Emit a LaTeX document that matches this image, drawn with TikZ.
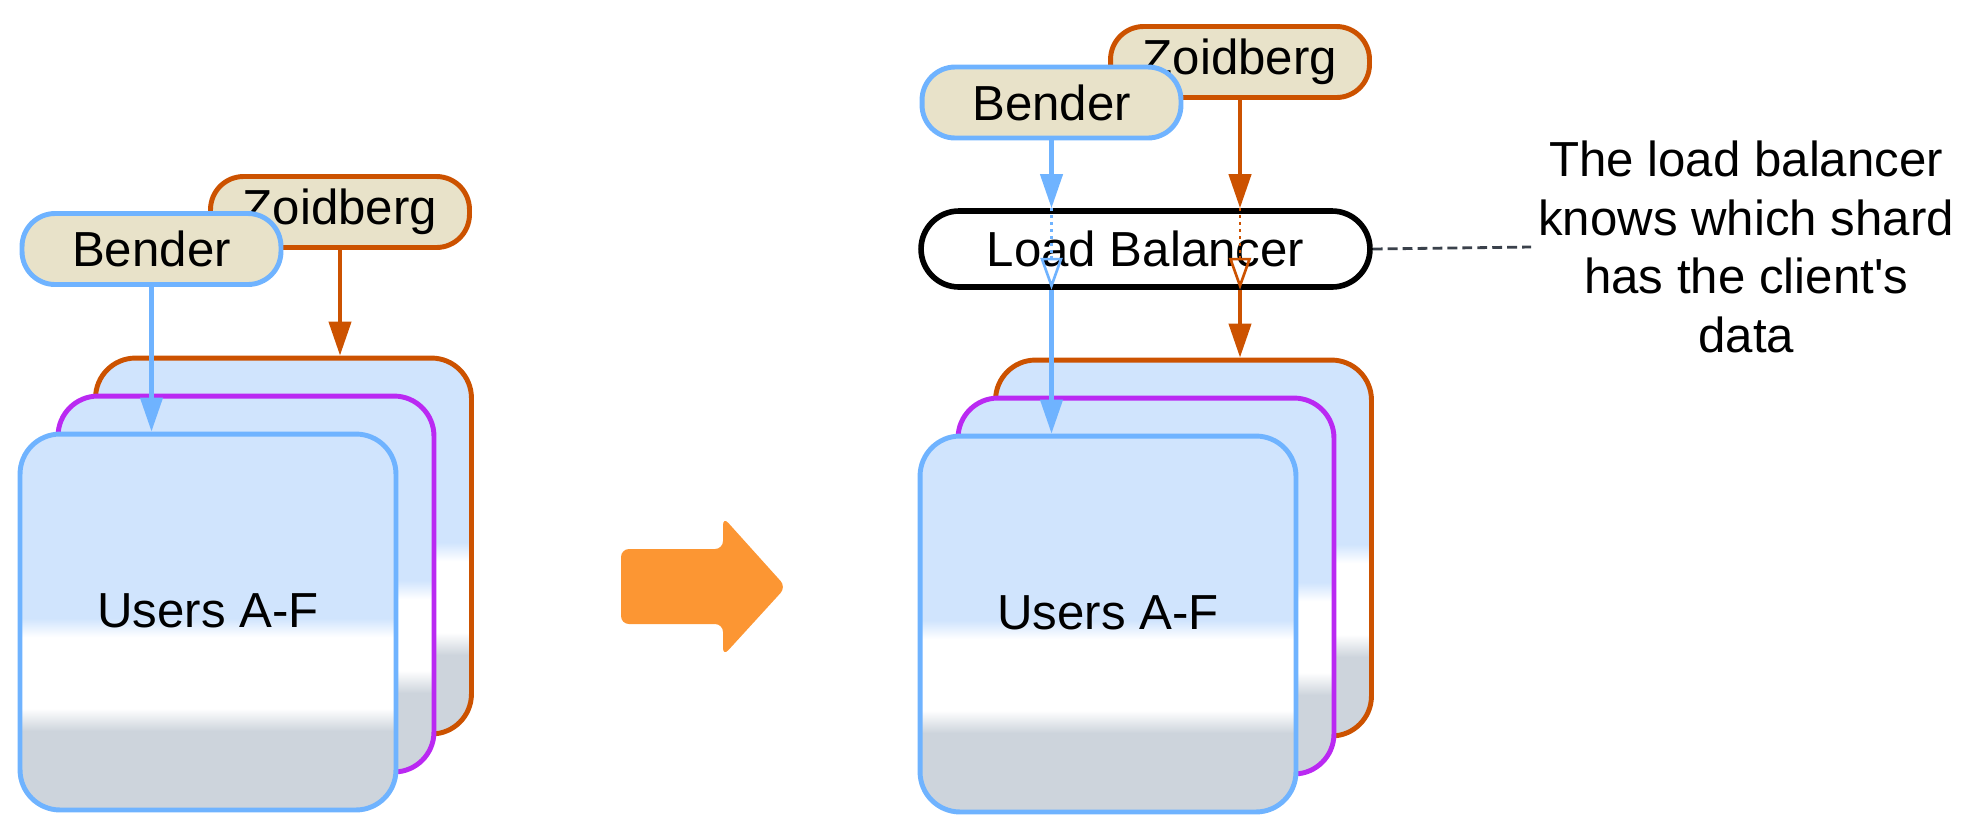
\documentclass[tikz,border=0pt]{standalone}
\usepackage{fontspec}
\setmainfont{Liberation Sans}
\newfontfamily\notefont{Liberation Sans}
\usepackage{xcolor}
\usepackage{tikz}
\usetikzlibrary{arrows.meta,calc}
\definecolor{blueline}{HTML}{6FB3FF}
\definecolor{orangeline}{HTML}{CC5200}
\definecolor{purpleline}{HTML}{BA29F2}
\definecolor{pillfill}{HTML}{E8E2C9}
\definecolor{cardblue}{HTML}{D0E4FD}
\definecolor{cardgray}{HTML}{CDD4DC}
\definecolor{bigarrow}{HTML}{FC9633}
\definecolor{noteline}{HTML}{3A414B}
\newcommand{\diagfont}{\fontsize{28}{33}\selectfont}
\pgfdeclareverticalshading{cardshade}{100bp}{color(0bp)=(cardgray); color(35.5bp)=(cardgray); color(38.5bp)=(white); color(48bp)=(white); color(50.5bp)=(cardblue); color(100bp)=(cardblue)}

\begin{document}
\begin{tikzpicture}[x=0.02cm,y=-0.02cm,
  pill/.style={draw=#1,fill=pillfill,line width=2.8pt,rounded corners=0.66cm,
    minimum width=5.18cm,minimum height=1.42cm,font=\diagfont},
  lbbox/.style={draw=black,fill=white,line width=3.2pt,rounded corners=0.76cm,
    minimum width=8.98cm,minimum height=1.52cm,font=\diagfont},
  card/.style={draw=#1,line width=2.8pt,rounded corners=0.8cm,shade,shading=cardshade,
    minimum width=7.52cm,minimum height=7.52cm},
  cardtext/.style={font=\diagfont,inner sep=0pt},
  note/.style={font=\notefont\fontsize{28}{33.3}\selectfont,align=center,inner sep=0.14cm},
  conn/.style={line width=2.4pt,-{Triangle[length=0.68cm,width=0.44cm]}},
  passthru/.style={line width=1.6pt,dash pattern=on 1.6pt off 2.4pt},
  opentip/.style={line width=1.5pt,-{Triangle[open,length=0.64cm,width=0.44cm]}}]
  \useasboundingbox (0,0) rectangle (1973,833);
  % shard stacks, before and after
  \foreach \s/\dx/\dy in {L/0/0,R/900/2} {
    \node[card=orangeline] (back\s) at ({283.5+\dx},{546+\dy}) {};
    \node[card=purpleline] (mid\s) at ({246+\dx},{584+\dy}) {};
    \node[card=blueline] (users\s) at ({208+\dx},{622+\dy}) {};
    \node[cardtext] (label\s) at ({208+\dx},{611+\dy}) {Users A-F};
  }
  % clients
  \foreach \s/\bx/\by/\zx/\zy in {L/151.5/249/340/212,R/1051.5/102.5/1240/62} {
    \node[pill=orangeline] (zoid\s) at (\zx,\zy) {Zoidberg};
    \node[pill=blueline] (bender\s) at (\bx,\by) {Bender};
  }
  % load balancer and its note
  \node[lbbox] (lb) at (1145.5,249) {Load Balancer};
  \node[note,anchor=west] (note) at (1531,247) {The load balancer\\knows which shard\\has the client's\\data};
  \draw[noteline,line width=1.6pt,dash pattern=on 5.6pt off 2.9pt] (lb.east) -- (note.west);
  % big arrow between the two setups
  \fill[bigarrow,rounded corners=0.16cm] (621,549) -- (723,549) -- (723,517) -- (786,587)
    -- (723,656) -- (723,624) -- (621,624) -- cycle;
  % direct requests
  \draw[conn,blueline] (benderL.south) -- (benderL.south |- usersL.north);
  \draw[conn,orangeline] (zoidL.south) -- (zoidL.south |- backL.north);
  % requests through the balancer
  \foreach \c/\col/\dst in {benderR/blueline/usersR,zoidR/orangeline/backR} {
    \draw[conn,\col] (\c.south) -- (\c.south |- lb.north);
    \draw[passthru,\col] (\c.south |- lb.north) -- ($(\c.south |- lb.south)+(0,-32)$);
    \draw[opentip,\col] ($(\c.south |- lb.south)+(0,-34)$) -- (\c.south |- lb.south);
    \draw[conn,\col] (\c.south |- lb.south) -- (\c.south |- \dst.north);
  }
\end{tikzpicture}
\end{document}
